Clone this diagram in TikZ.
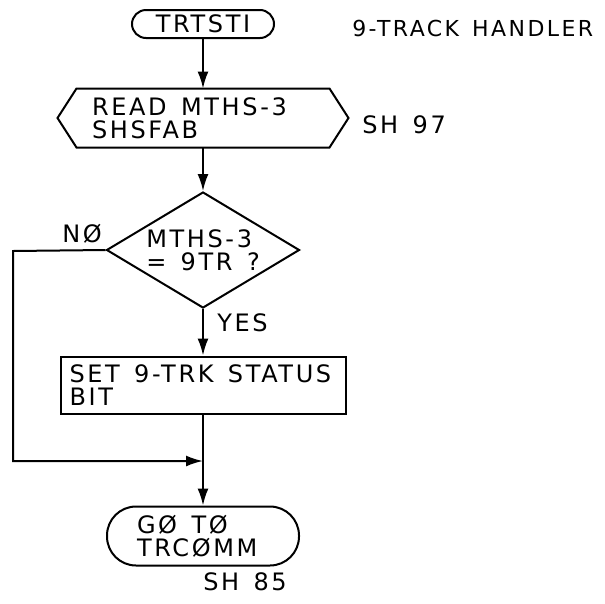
\documentclass[tikz,border=0pt]{standalone}
\usepackage{fontspec}
\setmainfont{DejaVu Sans}[LetterSpace=11, WordSpace=1.4]
\usetikzlibrary{arrows.meta, shapes.geometric}

\begin{document}
\begin{tikzpicture}[x=1pt, y=-1pt, line width=2pt,
  font=\fontsize{24}{23}\selectfont,
  flow/.style={-{Latex[length=17pt,width=11pt]}},
  termbox/.style={draw, rectangle, inner sep=0pt, align=flush left},
  stepbox/.style={draw, rectangle, inner sep=0pt, minimum width=285pt, minimum height=57pt, text width=267pt, align=flush left}]
\useasboundingbox (0,0) rectangle (605,603);
% entry point and title
\node[termbox, rounded corners=14pt, minimum width=142pt, minimum height=28pt] (start) at (203,24) {TRTSTI};
\node[anchor=west, font=\fontsize{22}{23}\selectfont] (title) at (348,28) {9-TRACK HANDLER};
% read (hexagon drawn round the node)
\node[inner sep=0pt, minimum width=251pt, minimum height=57pt, text width=222pt, align=flush left] (read) at (203,118) {READ MTHS-3\\SHSFAB};
\draw (read.north west) -- (read.north east) -- ([xshift=19pt]read.east) -- (read.south east)
  -- (read.south west) -- ([xshift=-19pt]read.west) -- cycle;
\node[anchor=west] (sh97) at (358,125) {SH 97};
% test
\node[diamond, draw, aspect=1.66, inner sep=0pt, minimum width=193pt, minimum height=116pt, align=left] (test) at (203,250) {MTHS-3\\= 9TR ?};
\node (no) at (82,234) {NØ};
\node[anchor=west] (yes) at (213,323) {YES};
% set status bit
\node[stepbox] (set) at (203,385) {SET 9-TRK STATUS\\BIT};
% exit
\node[termbox, rounded corners=29pt, minimum width=192pt, minimum height=59pt, text width=132pt] (end) at (203,536) {GØ TØ\\TRCØMM};
\node (sh85) at (245,582) {SH 85};
% flow lines
\coordinate (noleft) at (13,251);
\coordinate (join) at (203,461);
\draw[flow] (start) -- (read);
\draw[flow] (read) -- (test);
\draw[flow] (test) -- (set);
\draw[flow] (set) -- (end);
\draw[flow] (test.west) -- (noleft) |- (join);
\end{tikzpicture}
\end{document}
